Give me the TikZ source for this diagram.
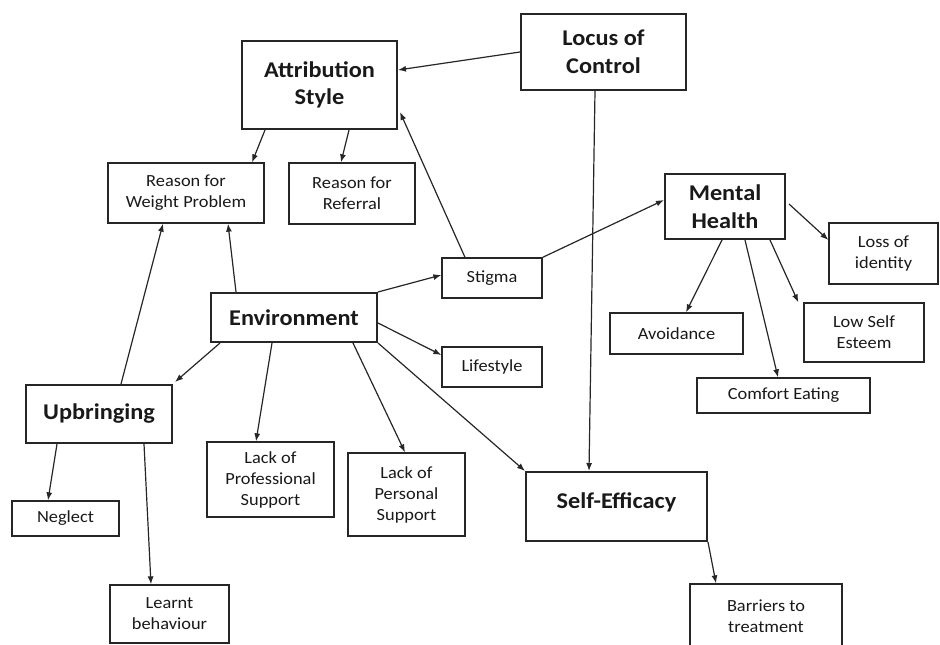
\documentclass[tikz,border=0pt]{standalone}
\usepackage{fontspec}
\setmainfont{Carlito}[FakeStretch=1.08]
\usetikzlibrary{arrows.meta}

\begin{document}
\begin{tikzpicture}
    [x=1pt, y=-1pt,
     every node/.style={draw=black!85, align=center, inner sep=0pt, text=black!90},
     bigbox/.style={line width=2pt, font=\fontsize{22.5}{27.5}\selectfont\bfseries},
     smallbox/.style={line width=1.3pt, font=\fontsize{17}{21}\selectfont},
     link/.style={-{Latex[length=8pt,width=6pt]}, line width=1.2pt, draw=black!85}]

    \useasboundingbox (0,0) rectangle (940,645);
    \clip (0,0) rectangle (940,645);

    \node[bigbox, minimum width=165pt, minimum height=76pt] (loc) at (603.5,52) {Locus of\\Control};
    \node[bigbox, minimum width=155pt, minimum height=88pt] (att) at (319.5,85) {Attribution\\Style};
    \node[bigbox, minimum width=120pt, minimum height=65pt] (mh) at (725,206.5) {Mental\\Health};
    \node[bigbox, minimum width=166pt, minimum height=49pt] (env) at (294,317.5) {Environment};
    \node[bigbox, minimum width=146pt, minimum height=58pt] (upb) at (99,414) {Upbringing};
    \node[bigbox, minimum width=181pt, minimum height=69pt, text depth=12pt] (seff) at (616.5,506.5) {Self-Efficacy};

    \node[smallbox, minimum width=156pt, minimum height=60pt] (rwp) at (186,193) {Reason for\\Weight Problem};
    \node[smallbox, minimum width=126pt, minimum height=61pt] (rref) at (352,193.5) {Reason for\\Referral};
    \node[smallbox, minimum width=109pt, minimum height=61pt] (loi) at (883.5,253.5) {Loss of\\identity};
    \node[smallbox, minimum width=100pt, minimum height=40pt] (stig) at (492,278) {Stigma};
    \node[smallbox, minimum width=100pt, minimum height=40pt] (life) at (492,367) {Lifestyle};
    \node[smallbox, minimum width=133pt, minimum height=41pt] (avo) at (676.5,333.5) {Avoidance};
    \node[smallbox, minimum width=120pt, minimum height=59pt] (lse) at (864,332.5) {Low Self\\Esteem};
    \node[smallbox, minimum width=173pt, minimum height=35pt] (ce) at (783.5,395.5) {Comfort Eating};
    \node[smallbox, minimum width=127pt, minimum height=75pt] (lps) at (270.5,479.5) {Lack of\\Professional\\Support};
    \node[smallbox, minimum width=117pt, minimum height=83pt] (lpers) at (406.5,494.5) {Lack of\\Personal\\Support};
    \node[smallbox, minimum width=107pt, minimum height=35pt] (neg) at (65.5,518.5) {Neglect};
    \node[smallbox, minimum width=119pt, minimum height=58pt] (lb) at (169.5,614) {Learnt\\behaviour};
    \node[smallbox, minimum width=152pt, minimum height=64pt] (bar) at (766,616) {Barriers to\\treatment};

    \draw[link] (loc.west) -- ([yshift=15pt]att.east);
    \draw[link] ([xshift=-8.5pt]loc.south) -- ([xshift=-27.5pt]seff.north);
    \draw[link] ([xshift=-54.5pt]att.south) -- ([xshift=66pt]rwp.north);
    \draw[link] ([xshift=29.5pt]att.south) -- ([xshift=-11pt]rref.north);
    \draw[link] ([xshift=-27pt]stig.north) -- ([xshift=2pt,yshift=-27pt]att.east);
    \draw[link] (stig.north east) -- ([yshift=6.5pt]mh.west);
    \draw[link] ([xshift=-58pt]env.north) -- ([xshift=42pt]rwp.south);
    \draw[link] ([xshift=22pt]upb.north) -- ([xshift=-23pt]rwp.south);
    \draw[link] (env.north east) -- ([yshift=3pt]stig.west);
    \draw[link] ([yshift=-5.5pt]env.east) -- ([yshift=12pt]life.west);
    \draw[link] ([xshift=-74pt]env.south) -- ([xshift=2pt,yshift=2pt]upb.north east);
    \draw[link] ([xshift=-22pt]env.south) -- ([xshift=-14.5pt]lps.north);
    \draw[link] ([xshift=59pt]env.south) -- ([xshift=-1.5pt]lpers.north);
    \draw[link] (env.south east) -- (seff.north west);
    \draw[link] ([xshift=3pt,yshift=2.5pt]mh.east) -- ([yshift=13.5pt]loi.west);
    \draw[link] ([xshift=-3pt]mh.south) -- ([xshift=9.5pt]avo.north);
    \draw[link] ([xshift=20pt]mh.south) -- ([xshift=-5.5pt]ce.north);
    \draw[link] ([xshift=45pt]mh.south) -- ([xshift=-5pt]lse.north west);
    \draw[link] ([xshift=-42pt]upb.south) -- ([xshift=-17.5pt]neg.north);
    \draw[link] ([xshift=45pt]upb.south) -- ([xshift=-18.5pt]lb.north);
    \draw[link] (seff.south east) -- ([xshift=-50pt]bar.north);
  \end{tikzpicture}
\end{document}
